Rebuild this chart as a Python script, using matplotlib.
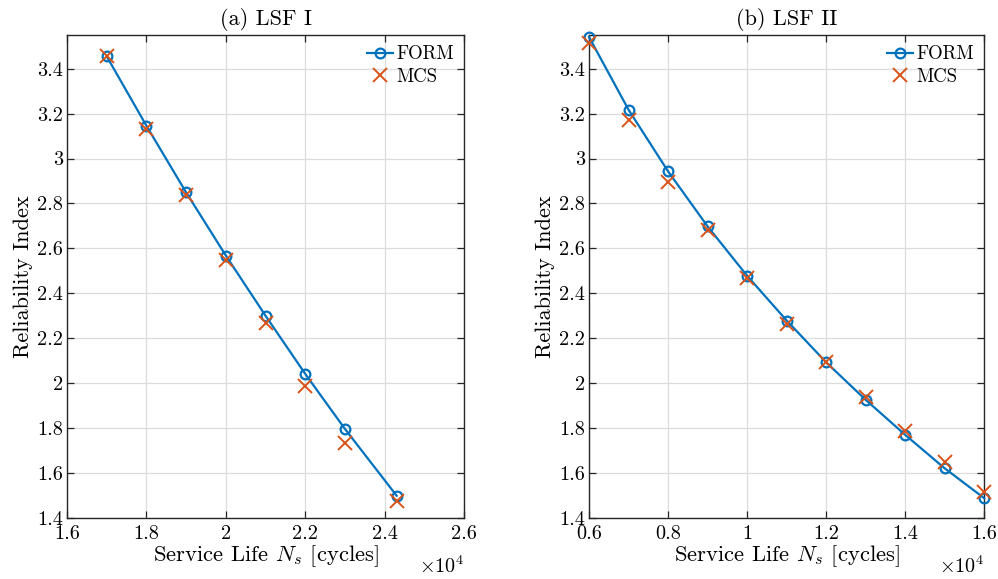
import matplotlib
matplotlib.use("Agg")
import matplotlib.pyplot as plt
from matplotlib.ticker import FuncFormatter, MultipleLocator

plt.rcParams['font.family'] = 'serif'
plt.rcParams['font.serif'] = ['cmr10']
plt.rcParams['mathtext.fontset'] = 'cm'
plt.rcParams['axes.unicode_minus'] = False

# LSF I data
n1 = [17000, 18000, 19000, 20000, 21000, 22000, 23000, 24300]
form1 = [3.455, 3.146, 2.849, 2.568, 2.300, 2.041, 1.796, 1.499]
mcs1 = [3.455, 3.131, 2.839, 2.549, 2.267, 1.988, 1.733, 1.477]

# LSF II data
n2 = [6000, 7000, 8000, 9000, 10000, 11000, 12000, 13000, 14000, 15000, 16000]
form2 = [3.541, 3.217, 2.943, 2.698, 2.478, 2.279, 2.093, 1.926, 1.770, 1.621, 1.488]
mcs2 = [3.514, 3.173, 2.894, 2.683, 2.468, 2.264, 2.096, 1.940, 1.788, 1.648, 1.517]

titles = ['(a) LSF I', '(b) LSF II']
xlims = [(16000, 26000), (6000, 16000)]
ylim = (1.4, 3.55)

BLUE = '#0072BD'
ORANGE = '#D95319'

fig = plt.figure(figsize=(9.98, 5.79), dpi=100)
ax1 = fig.add_axes([0.0671, 0.1054, 0.398, 0.8342])
ax2 = fig.add_axes([0.5902, 0.1054, 0.396, 0.8342])

fmt_x = FuncFormatter(lambda v, p: '%g' % round(v / 1e4, 3))
fmt_y = FuncFormatter(lambda v, p: '%g' % round(v, 3))

for ax, n, f, m, t, xl in [(ax1, n1, form1, mcs1, titles[0], xlims[0]),
                           (ax2, n2, form2, mcs2, titles[1], xlims[1])]:
    ax.plot(n, f, '-o', color=BLUE, lw=1.6, ms=7, mfc='none', mew=1.6,
            label='FORM', zorder=3, clip_on=False)
    ax.plot(n, m, 'x', color=ORANGE, ms=9.5, mew=1.4, label='MCS', zorder=4,
            clip_on=False)
    ax.set_xlim(*xl)
    ax.set_ylim(*ylim)
    ax.xaxis.set_major_locator(MultipleLocator(2000))
    ax.yaxis.set_major_locator(MultipleLocator(0.2))
    ax.xaxis.set_major_formatter(fmt_x)
    ax.yaxis.set_major_formatter(fmt_y)
    ax.grid(True, color='#dcdcdc', lw=0.9)
    ax.set_axisbelow(True)
    ax.tick_params(direction='in', top=True, right=True, length=5, width=0.9,
                   labelsize=14.6, colors='#262626', labelcolor='black', pad=3)
    ax.tick_params(axis='x', pad=5)
    for s in ax.spines.values():
        s.set_color('#262626')
        s.set_linewidth(1.0)
    ax.set_title(t, fontsize=16, pad=7)
    ax.set_xlabel(r'Service Life $N_s$ [cycles]', fontsize=16.3, labelpad=0)
    ax.set_ylabel('Reliability Index', fontsize=16, labelpad=3)
    ax.legend(loc='upper right', frameon=False, fontsize=13.5, handlelength=1.4,
              handletextpad=0.15, borderaxespad=0.25, labelspacing=0.25,
              borderpad=0.3)
    pos = ax.get_position()
    fig.text(pos.x1, 0.0104, r'$\times 10^4$', fontsize=14.5, ha='right',
             va='baseline')

fig.savefig('out.png', dpi=100)
